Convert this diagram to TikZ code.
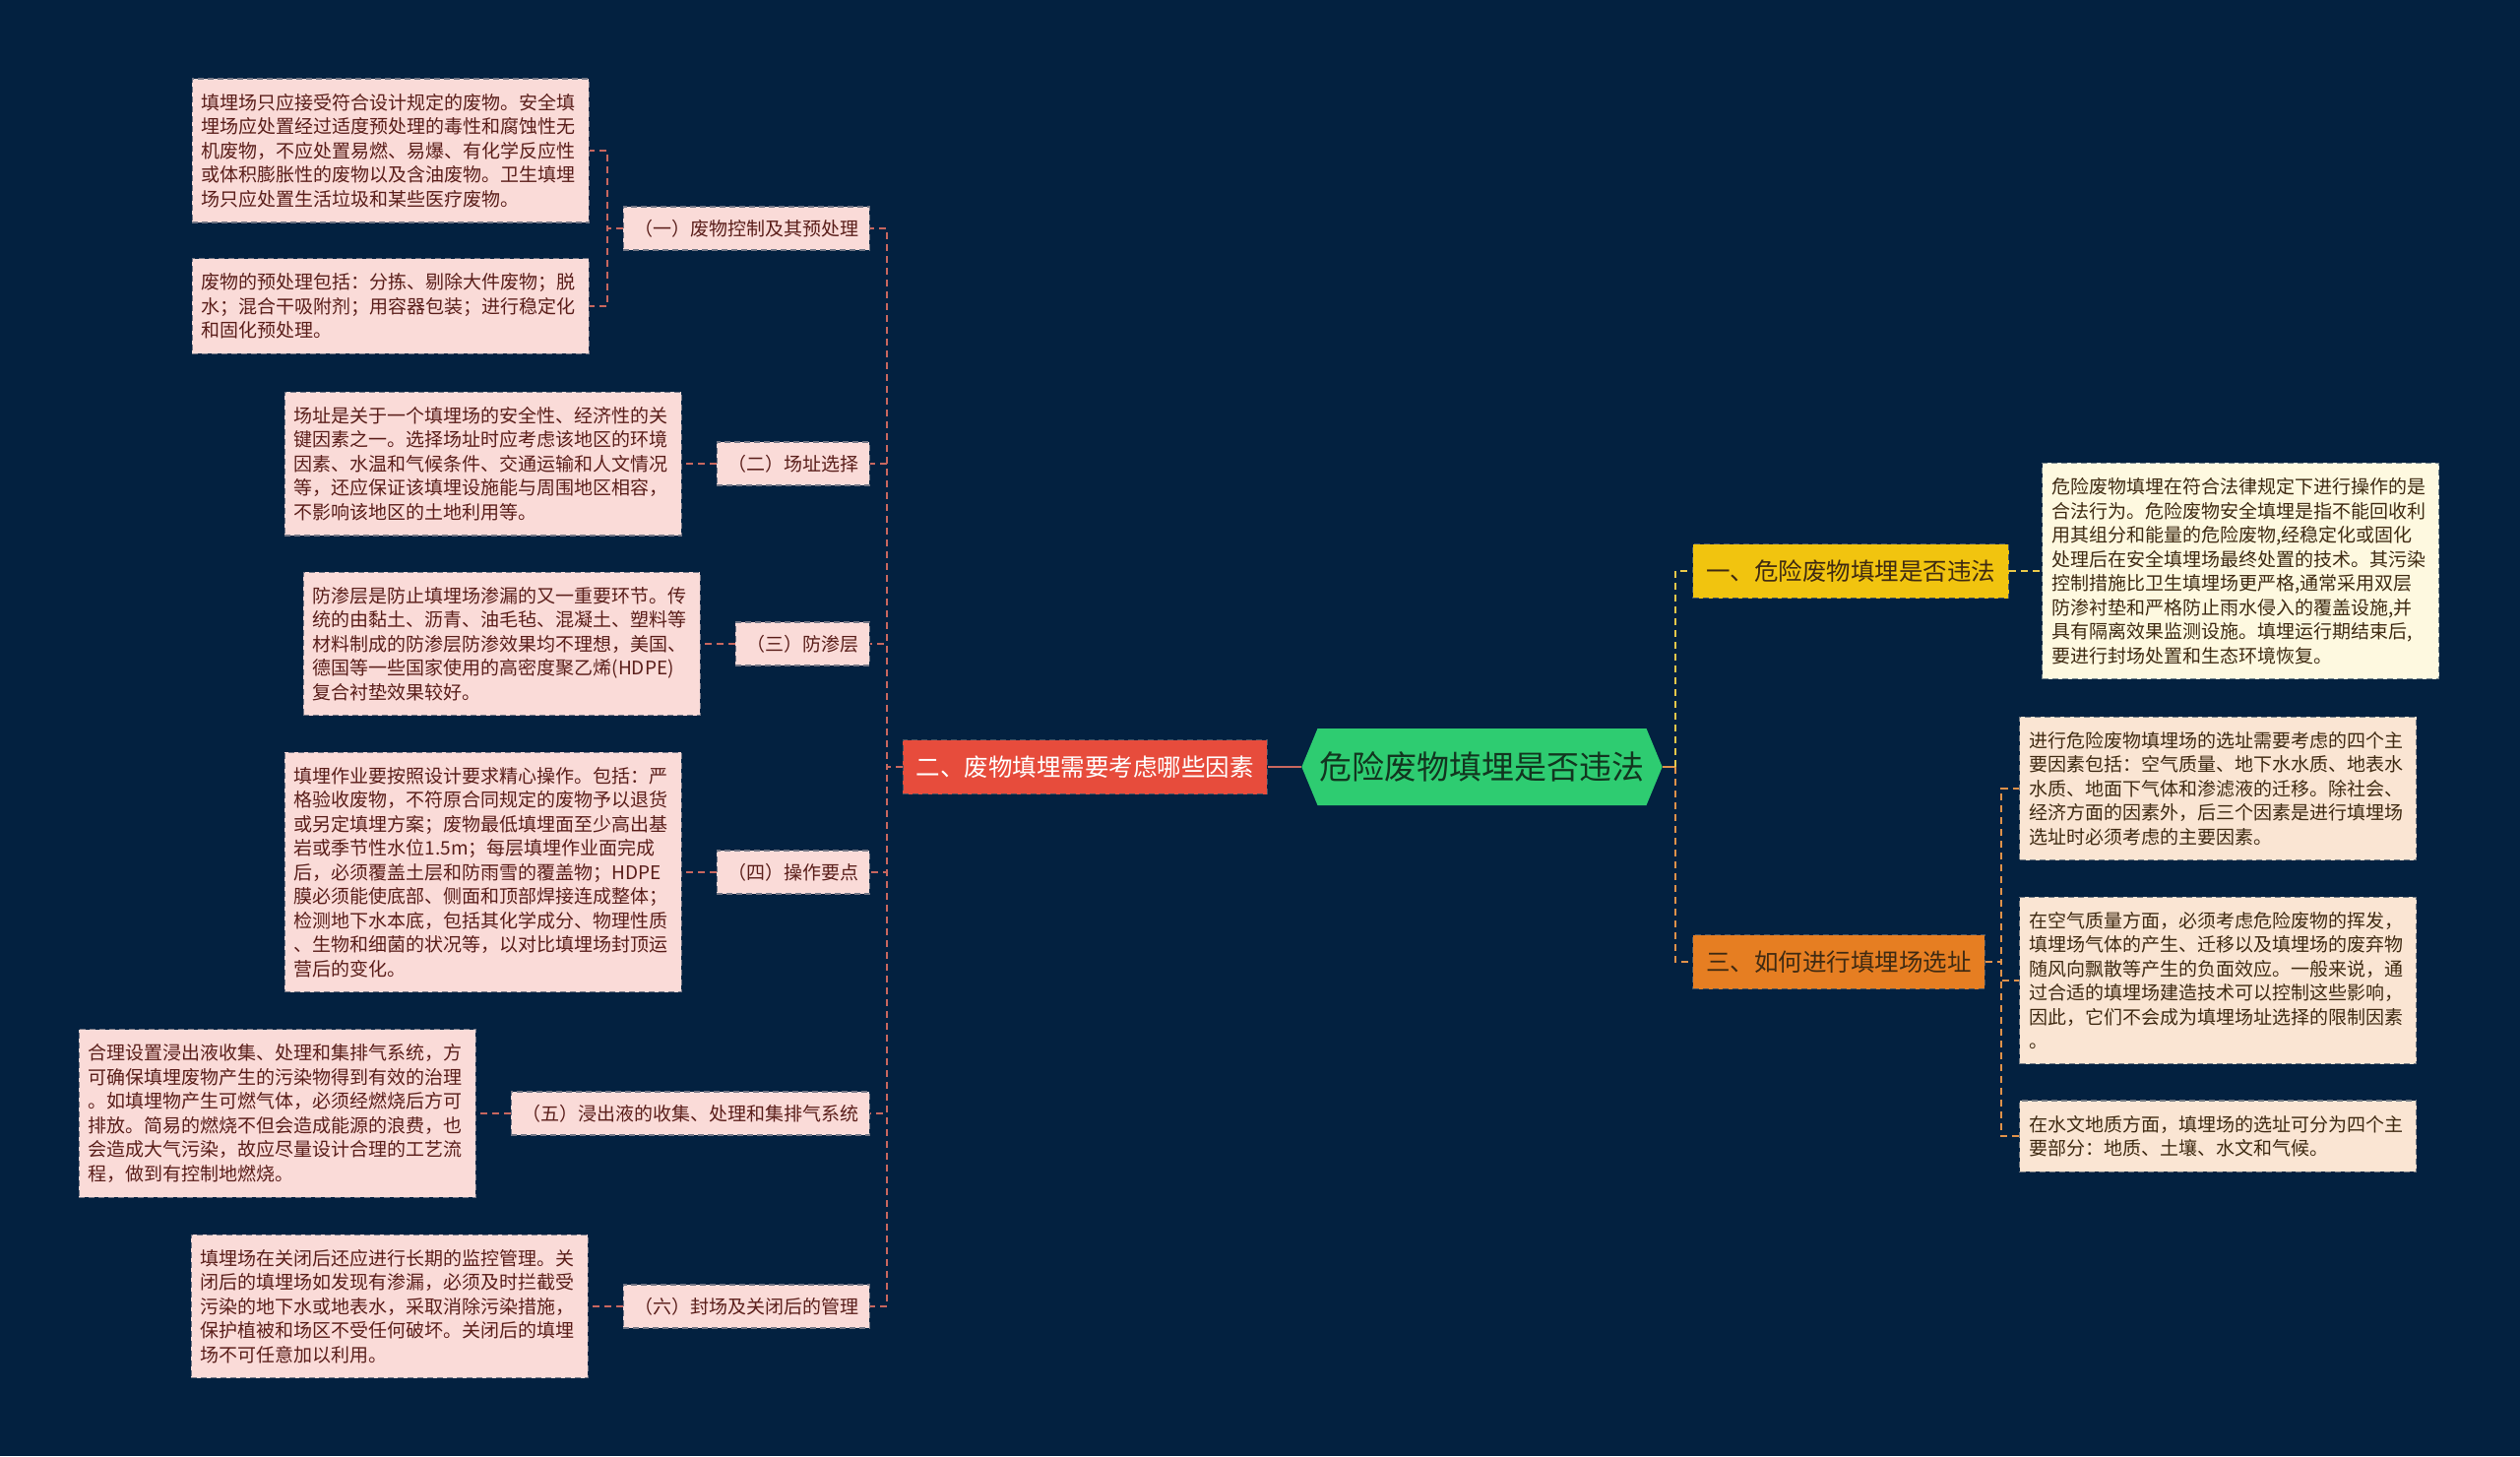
\documentclass[tikz,border=0pt]{standalone}
\usepackage{fontspec}
\setmainfont{Noto Sans CJK SC}
\usepackage{xcolor}
\usepackage{tikz}
\usetikzlibrary{shapes.symbols, positioning}
\definecolor{night}{HTML}{032140}
\definecolor{emerald}{HTML}{2ECC71}
\definecolor{rootink}{HTML}{12351F}
\definecolor{brick}{HTML}{E74C3C}
\definecolor{sun}{HTML}{F1C40F}
\definecolor{carrot}{HTML}{E67E22}
\definecolor{blush}{HTML}{FADBD8}
\definecolor{cream}{HTML}{FEF9E0}
\definecolor{peach}{HTML}{FAE5D3}
\definecolor{maroon}{HTML}{5A1E1A}
\definecolor{umber}{HTML}{3F2A12}
\definecolor{redlink}{HTML}{C8675F}
\definecolor{sunlink}{HTML}{E8C94A}
\definecolor{carrotlink}{HTML}{E0924A}
\tikzset{
  rootbox/.style={signal, signal to=west and east, signal pointer angle=135, fill=emerald, text=rootink, font=\fontsize{16.5pt}{20pt}\selectfont, minimum width=179.5pt, minimum height=39pt, inner xsep=1pt},
  branchbox/.style={rectangle, draw=night!45!gray, densely dashed, line width=0.6pt, font=\fontsize{12.25pt}{15pt}\selectfont, minimum height=27.5pt, inner xsep=6.75pt},
  subbox/.style={rectangle, fill=blush, draw=blush!45!night, densely dashed, line width=0.6pt, text=maroon, font=\fontsize{9.5pt}{12pt}\selectfont, minimum height=22pt, inner xsep=5.5pt},
  leafbox/.style={rectangle, fill=blush, draw=blush!45!night, densely dashed, line width=0.6pt, text=maroon, align=left, text width=192pt, inner xsep=4.75pt, inner ysep=7.5pt, font=\fontsize{9.5pt}{12.25pt}\selectfont},
  rightleaf/.style={leafbox, fill=peach, draw=peach!45!night, text=umber},
  redsolid/.style={draw=redlink, line width=1.4pt},
  carrotsolid/.style={draw=carrotlink, line width=1.4pt},
  redline/.style={draw=redlink, line width=1.15pt, dash pattern=on 3.5pt off 2.5pt},
  sunline/.style={draw=sunlink, line width=1.15pt, dash pattern=on 3.5pt off 2.5pt},
  carrotline/.style={draw=carrotlink, line width=1.15pt, dash pattern=on 3.5pt off 2.5pt},
}
\begin{document}
\begin{tikzpicture}[x=0.5pt, y=-0.5pt, node distance=17.5pt]
  \useasboundingbox (0,0) rectangle (2560,1479);
  \fill[night] (0,0) rectangle (2560,1479);
  \node[rootbox] (root) at (1505.5,779) {危险废物填埋是否违法};
  \node[branchbox, fill=brick, text=white, anchor=east] (factors) at (1288,779) {二、废物填埋需要考虑哪些因素};
  \node[branchbox, fill=sun, text=umber, anchor=west] (legal) at (1719,580) {一、危险废物填埋是否违法};
  \node[branchbox, fill=carrot, text=umber, anchor=west] (siting) at (1719,977) {三、如何进行填埋场选址};
  \node[subbox, anchor=east] (control) at (884,232) {（一）废物控制及其预处理};
  \node[subbox, anchor=east] (site) at (884,471) {（二）场址选择};
  \node[subbox, anchor=east] (liner) at (884,654) {（三）防渗层};
  \node[subbox, anchor=east] (ops) at (884,886) {（四）操作要点};
  \node[subbox, anchor=east] (leach) at (884,1131) {（五）浸出液的收集、处理和集排气系统};
  \node[subbox, anchor=east] (closure) at (884,1327) {（六）封场及关闭后的管理};
  \node[leafbox, anchor=east] (controltxt) at (599,153) {填埋场只应接受符合设计规定的废物。安全填\\
埋场应处置经过适度预处理的毒性和腐蚀性无\\
机废物，不应处置易燃、易爆、有化学反应性\\
或体积膨胀性的废物以及含油废物。卫生填埋\\
场只应处置生活垃圾和某些医疗废物。};
  \node[leafbox, anchor=east] (pretxt) at (599,311) {废物的预处理包括：分拣、剔除大件废物；脱\\
水；混合干吸附剂；用容器包装；进行稳定化\\
和固化预处理。};
  \node[leafbox, left=of site] (sitetxt) {场址是关于一个填埋场的安全性、经济性的关\\
键因素之一。选择场址时应考虑该地区的环境\\
因素、水温和气候条件、交通运输和人文情况\\
等，还应保证该填埋设施能与周围地区相容，\\
不影响该地区的土地利用等。};
  \node[leafbox, left=of liner] (linertxt) {防渗层是防止填埋场渗漏的又一重要环节。传\\
统的由黏土、沥青、油毛毡、混凝土、塑料等\\
材料制成的防渗层防渗效果均不理想，美国、\\
德国等一些国家使用的高密度聚乙烯(HDPE)\\
复合衬垫效果较好。};
  \node[leafbox, left=of ops] (opstxt) {填埋作业要按照设计要求精心操作。包括：严\\
格验收废物，不符原合同规定的废物予以退货\\
或另定填埋方案；废物最低填埋面至少高出基\\
岩或季节性水位1.5m；每层填埋作业面完成\\
后，必须覆盖土层和防雨雪的覆盖物；HDPE\\
膜必须能使底部、侧面和顶部焊接连成整体；\\
检测地下水本底，包括其化学成分、物理性质\\
、生物和细菌的状况等，以对比填埋场封顶运\\
营后的变化。};
  \node[leafbox, left=of leach] (leachtxt) {合理设置浸出液收集、处理和集排气系统，方\\
可确保填埋废物产生的污染物得到有效的治理\\
。如填埋物产生可燃气体，必须经燃烧后方可\\
排放。简易的燃烧不但会造成能源的浪费，也\\
会造成大气污染，故应尽量设计合理的工艺流\\
程，做到有控制地燃烧。};
  \node[leafbox, left=of closure] (closuretxt) {填埋场在关闭后还应进行长期的监控管理。关\\
闭后的填埋场如发现有渗漏，必须及时拦截受\\
污染的地下水或地表水，采取消除污染措施，\\
保护植被和场区不受任何破坏。关闭后的填埋\\
场不可任意加以利用。};
  \node[leafbox, fill=cream, draw=cream!45!night, text=umber, right=16.5pt of legal] (legaltxt) {危险废物填埋在符合法律规定下进行操作的是\\
合法行为。危险废物安全填埋是指不能回收利\\
用其组分和能量的危险废物,经稳定化或固化\\
处理后在安全填埋场最终处置的技术。其污染\\
控制措施比卫生填埋场更严格,通常采用双层\\
防渗衬垫和严格防止雨水侵入的覆盖设施,并\\
具有隔离效果监测设施。填埋运行期结束后,\\
要进行封场处置和生态环境恢复。};
  \node[rightleaf, anchor=west] (factortxt) at (2051,801) {进行危险废物填埋场的选址需要考虑的四个主\\
要因素包括：空气质量、地下水水质、地表水\\
水质、地面下气体和渗滤液的迁移。除社会、\\
经济方面的因素外，后三个因素是进行填埋场\\
选址时必须考虑的主要因素。};
  \node[rightleaf, anchor=west] (airtxt) at (2051,996) {在空气质量方面，必须考虑危险废物的挥发，\\
填埋场气体的产生、迁移以及填埋场的废弃物\\
随风向飘散等产生的负面效应。一般来说，通\\
过合适的填埋场建造技术可以控制这些影响，\\
因此，它们不会成为填埋场址选择的限制因素\\
。};
  \node[rightleaf, anchor=west] (geotxt) at (2051,1154) {在水文地质方面，填埋场的选址可分为四个主\\
要部分：地质、土壤、水文和气候。};
  \coordinate (trunkL) at (901,779);
  \coordinate (forkA) at (617,232);
  \coordinate (trunkR) at (1702,779);
  \coordinate (trunkO) at (2033,977);
  \draw[redsolid] (root.west) -- (factors.east);
  \draw[redline] (factors.west) -- (trunkL) |- (control.east);
  \draw[redline] (factors.west) -- (trunkL) |- (site.east);
  \draw[redline] (factors.west) -- (trunkL) |- (liner.east);
  \draw[redline] (factors.west) -- (trunkL) |- (ops.east);
  \draw[redline] (factors.west) -- (trunkL) |- (leach.east);
  \draw[redline] (factors.west) -- (trunkL) |- (closure.east);
  \draw[redline] (control.west) -- (forkA) |- (controltxt.east);
  \draw[redline] (control.west) -- (forkA) |- (pretxt.east);
  \draw[redline] (site.west) -- (sitetxt.east);
  \draw[redline] (liner.west) -- (linertxt.east);
  \draw[redline] (ops.west) -- (opstxt.east);
  \draw[redline] (leach.west) -- (leachtxt.east);
  \draw[redline] (closure.west) -- (closuretxt.east);
  \draw[carrotsolid] (root.east) -- (trunkR);
  \draw[sunline] (trunkR) |- (legal.west);
  \draw[carrotline] (trunkR) |- (siting.west);
  \draw[sunline] (legal.east) -- (legaltxt.west);
  \draw[carrotline] (siting.east) -- (trunkO) |- (factortxt.west);
  \draw[carrotline] (siting.east) -- (trunkO) |- (airtxt.west);
  \draw[carrotline] (siting.east) -- (trunkO) |- (geotxt.west);
\end{tikzpicture}
\end{document}
